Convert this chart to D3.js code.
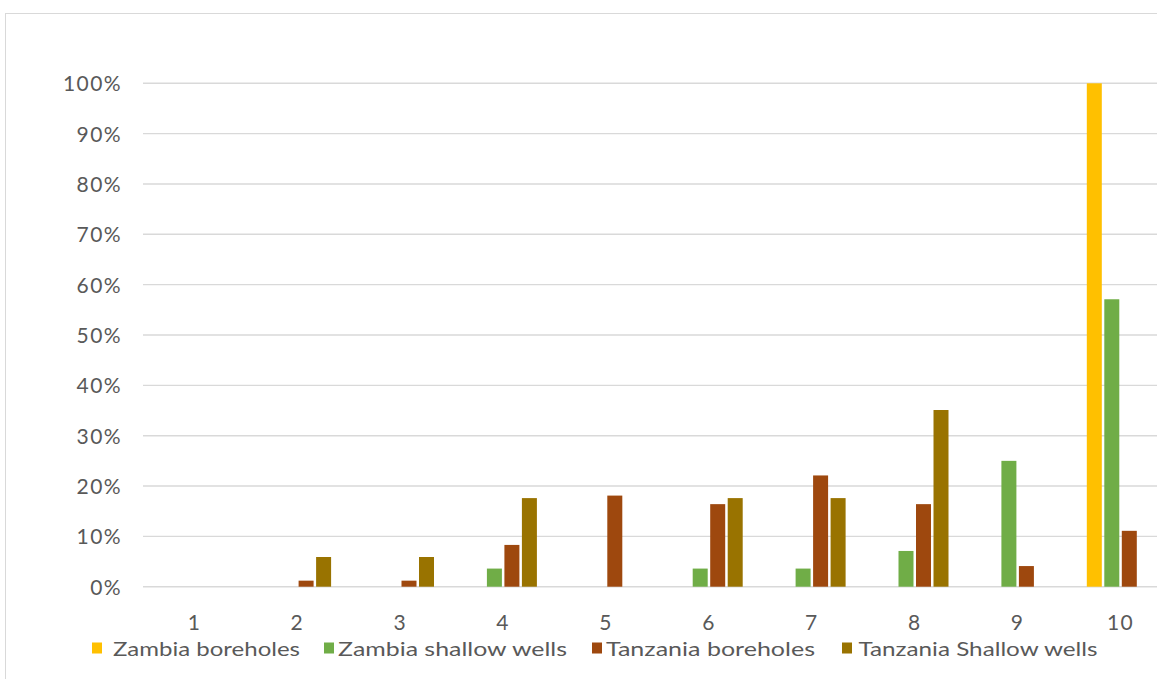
<!DOCTYPE html>
<html>
<head>
<meta charset="utf-8">
<script src="https://cdn.jsdelivr.net/npm/d3@7"></script>
<style>
  body { margin: 0; background: #fff; }
  svg { display: block; }
  text { font-family: Lato, "Open Sans", sans-serif; fill: #595959; }
</style>
</head>
<body>
<svg id="chart" width="1157" height="679"></svg>
<script>
// Share of water points per class (percent)
const categories = ["1", "2", "3", "4", "5", "6", "7", "8", "9", "10"];
const seriesNames = ["Zambia boreholes", "Zambia shallow wells", "Tanzania boreholes", "Tanzania Shallow wells"];
const zambiaBoreholes      = [0, 0,   0,   0,    0,    0,    0,    0,    0,    100];
const zambiaShallowWells   = [0, 0,   0,   3.6,  0,    3.6,  3.6,  7.1,  25.0, 57.1];
const tanzaniaBoreholes    = [0, 1.2, 1.2, 8.3,  18.1, 16.4, 22.1, 16.4, 4.1,  11.1];
const tanzaniaShallowWells = [0, 5.9, 5.9, 17.6, 0,    17.6, 17.6, 35.1, 0,    0];
const yTickValues = [0, 10, 20, 30, 40, 50, 60, 70, 80, 90, 100];
const seriesColors = ["#FFC000", "#70AD47", "#9E480E", "#997300"];

const seriesValues = [zambiaBoreholes, zambiaShallowWells, tanzaniaBoreholes, tanzaniaShallowWells];
const rows = categories.map((c, i) => ({
  category: c,
  values: seriesNames.map((s, k) => ({ series: s, value: seriesValues[k][i] }))
}));

const svg = d3.select("#chart");

// outer chart frame
svg.append("rect")
  .attr("x", 5.5).attr("y", 13.5)
  .attr("width", 1300).attr("height", 800)
  .attr("fill", "#fff").attr("stroke", "#d9d9d9").attr("stroke-width", 1);

const plot = { left: 143, right: 1172, top: 83.3, bottom: 586.7 };

const x0 = d3.scaleBand().domain(categories).range([plot.left, plot.right]).padding(0);
const groupWidth = 67.5;
const x1 = d3.scaleBand().domain(seriesNames).range([0, groupWidth]).paddingInner(0.143);
const y = d3.scaleLinear().domain([0, 100]).range([plot.bottom, plot.top]);
const color = d3.scaleOrdinal().domain(seriesNames).range(seriesColors);

// horizontal gridlines
svg.append("g")
  .selectAll("line")
  .data(yTickValues)
  .join("line")
  .attr("x1", plot.left).attr("x2", plot.right)
  .attr("y1", d => y(d)).attr("y2", d => y(d))
  .attr("stroke", "#d9d9d9").attr("stroke-width", 1.4);

// y axis labels
const yAxis = d3.axisLeft(y)
  .tickValues(yTickValues)
  .tickFormat(d => d + "%")
  .tickSize(0)
  .tickPadding(0);
const yg = svg.append("g").attr("transform", `translate(${plot.left - 21},0)`).call(yAxis);
yg.select(".domain").remove();
yg.selectAll("text")
  .attr("font-size", 21)
  .attr("font-family", "Lato, 'Open Sans', sans-serif")
  .attr("fill", "#606060")
  .style("letter-spacing", "1.4px")
  .attr("dy", "0.36em");

// x axis labels
const xAxis = d3.axisBottom(x0).tickSize(0).tickPadding(0);
const xg = svg.append("g").attr("transform", `translate(0,${plot.bottom})`).call(xAxis);
xg.select(".domain").remove();
xg.selectAll("text")
  .attr("font-size", 21)
  .attr("font-family", "Lato, 'Open Sans', sans-serif")
  .attr("fill", "#606060")
  .style("letter-spacing", "1.4px")
  .attr("dy", null)
  .attr("y", 43);

// bars
const groups = svg.append("g")
  .selectAll("g")
  .data(rows)
  .join("g")
  .attr("transform", d => `translate(${x0(d.category) + (x0.bandwidth() - groupWidth) / 2},0)`);

groups.selectAll("rect")
  .data(d => d.values)
  .join("rect")
  .attr("x", d => x1(d.series))
  .attr("width", x1.bandwidth())
  .attr("y", d => y(d.value))
  .attr("height", d => y(0) - y(d.value))
  .attr("fill", d => color(d.series));

// legend
const legendItems = [
  { name: seriesNames[0], sx: 92, tx: 113, w: 187 },
  { name: seriesNames[1], sx: 324, tx: 338, w: 229 },
  { name: seriesNames[2], sx: 592, tx: 606, w: 209 },
  { name: seriesNames[3], sx: 842, tx: 858.5, w: 239 }
];
const legend = svg.append("g");
legend.selectAll("rect")
  .data(legendItems)
  .join("rect")
  .attr("x", d => d.sx).attr("y", 642.5)
  .attr("width", 10).attr("height", 11)
  .attr("fill", d => color(d.name));
legend.selectAll("text")
  .data(legendItems)
  .join("text")
  .attr("x", d => d.tx).attr("y", 655.5)
  .attr("font-size", 20)
  .attr("fill", "#606060")
  .attr("textLength", d => d.w)
  .attr("lengthAdjust", "spacingAndGlyphs")
  .text(d => d.name);
</script>
</body>
</html>
